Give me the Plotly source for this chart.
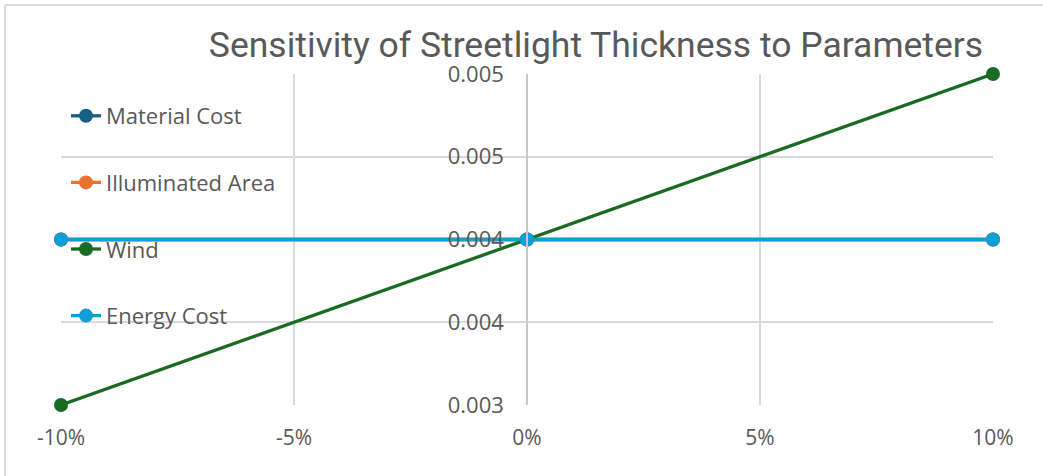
import plotly.graph_objects as go

# Data
changes = [-0.10, 0.0, 0.10]
material_cost = [0.004, 0.004, 0.004]
illuminated_area = [0.004, 0.004, 0.004]
wind = [0.003, 0.004, 0.005]
energy_cost = [0.004, 0.004, 0.004]

series_names = ["Material Cost", "Illuminated Area", "Wind", "Energy Cost"]
series_values = [material_cost, illuminated_area, wind, energy_cost]
series_colors = ["#156082", "#E97132", "#196B24", "#0F9ED5"]

x_tickvals = [-0.10, -0.05, 0.0, 0.05, 0.10]
x_ticktext = ["-10%", "-5%", "0%", "5%", "10%"]
y_tickvals = [0.003, 0.0035, 0.004, 0.0045, 0.005]
y_ticktext = ["0.003", "0.004", "0.004", "0.005", "0.005"]

TFONT = "Liberation Sans Narrow, Roboto, Arial, sans-serif"
BODY = "Open Sans, Lato, Arial, sans-serif"
GREY = "#595959"

fig = go.Figure()
for i, (name, vals, col) in enumerate(zip(series_names, series_values, series_colors)):
    fig.add_trace(go.Scatter(
        x=changes, y=vals, name=name, mode="lines+markers",
        line=dict(color=col, width=3.3),
        marker=dict(color=col, size=14),
        cliponaxis=False,
        legendgroup=f"g{i}",
    ))

W, H = 1043, 476
ml, mr, mt, mb = 61, 50, 74, 71
pw = W - ml - mr
ph = H - mt - mb

fig.update_layout(
    width=W, height=H,
    margin=dict(l=ml, r=mr, t=mt, b=mb, autoexpand=False),
    paper_bgcolor="white", plot_bgcolor="white",
    font=dict(family=BODY, size=22, color=GREY),
    title=dict(
        text="Sensitivity of Streetlight Thickness to Parameters",
        font=dict(family=TFONT, size=35.5, color=GREY),
        x=596 / W, xanchor="center", y=1 - 45 / H, yanchor="middle",
    ),
    xaxis=dict(
        range=[-0.10, 0.10], tickvals=x_tickvals, ticktext=x_ticktext,
        showgrid=True, gridcolor="#D9D9D9", gridwidth=1.5,
        zeroline=False, showline=False, ticks="", automargin=False,
        tickfont=dict(family=BODY, size=21, color=GREY),
        ticklabelstandoff=18,
    ),
    yaxis=dict(
        range=[0.003, 0.005], tickvals=y_tickvals, ticktext=y_ticktext,
        showgrid=True, gridcolor="#D9D9D9", gridwidth=1.5,
        zeroline=False, showline=True, linecolor="#C8C8C8", linewidth=1.5,
        anchor="free", position=0.5, ticks="", automargin=False,
        tickfont=dict(family=BODY, size=22, color=GREY),
        ticklabelstandoff=18,
    ),
    legend=dict(
        x=(66 - ml) / pw, xanchor="left", y=1 - (95 - mt) / ph, yanchor="top",
        bgcolor="rgba(0,0,0,0)", tracegroupgap=35,
        font=dict(family=BODY, size=22, color=GREY),
        itemwidth=30,
    ),
    showlegend=True,
)

# outer chart border (left and top edges visible)
fig.add_shape(type="line", xref="paper", yref="paper",
              x0=(5 - ml) / pw, x1=(W - ml) / pw, y0=1 + (mt - 5) / ph, y1=1 + (mt - 5) / ph,
              line=dict(color="#D0D0D0", width=1.5))
fig.add_shape(type="line", xref="paper", yref="paper",
              x0=(5 - ml) / pw, x1=(5 - ml) / pw, y0=1 + (mt - 5) / ph, y1=-(mb) / ph,
              line=dict(color="#D0D0D0", width=1.5))

fig.write_html("out.html", config={"displayModeBar": False},
               post_script="document.body.style.margin='0';")
